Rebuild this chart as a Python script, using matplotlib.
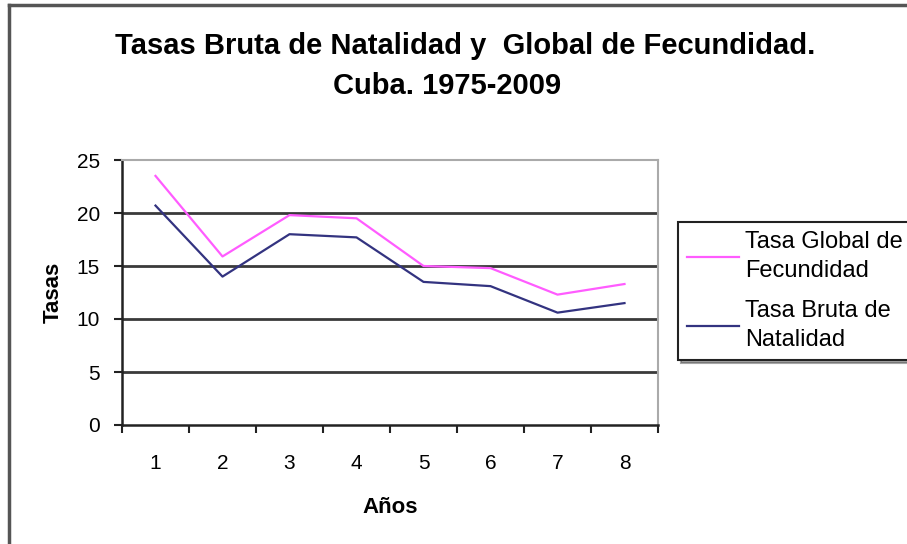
import matplotlib
matplotlib.use('Agg')
import matplotlib.pyplot as plt
from matplotlib.lines import Line2D

plt.rcParams['font.family'] = ['Liberation Sans', 'DejaVu Sans']

# datos
anos = [1, 2, 3, 4, 5, 6, 7, 8]
tasa_global = [23.5, 15.9, 19.8, 19.5, 15.0, 14.8, 12.3, 13.3]
tasa_bruta = [20.7, 14.0, 18.0, 17.7, 13.5, 13.1, 10.6, 11.5]
y_ticks = [0, 5, 10, 15, 20, 25]
titulo_1 = 'Tasas Bruta de Natalidad y  Global de Fecundidad.'
titulo_2 = 'Cuba. 1975-2009'

fig = plt.figure(figsize=(9.07, 5.44), dpi=100)
ax = fig.add_axes([122 / 907, 1 - 425 / 544, (658 - 122) / 907, (425 - 160) / 544])

# lineas de cuadricula
for v in y_ticks[1:-1]:
    ax.axhline(v, color='#3a3a3a', lw=2.0, zorder=1)

ax.plot(anos, tasa_global, color='#ff5cff', lw=1.6, label='Tasa Global de\nFecundidad', zorder=3)
ax.plot(anos, tasa_bruta, color='#333380', lw=1.6, label='Tasa Bruta de\nNatalidad', zorder=3)

ax.set_xlim(0.5, 8.5)
ax.set_ylim(0, 25)
ax.set_yticks(y_ticks)
ax.set_xticks([x + 0.5 for x in range(0, 9)])
ax.set_xticklabels([])
ax.set_xticks(anos, minor=True)
ax.set_xticklabels([str(a) for a in anos], minor=True)
ax.tick_params(axis='x', which='major', direction='out', length=6, width=1.5, color='#222222')
ax.tick_params(axis='x', which='minor', length=0, pad=21, labelsize=15)
ax.tick_params(axis='y', direction='out', length=6, width=1.5, color='#222222', pad=10, labelsize=15)

for s in ['top', 'right']:
    ax.spines[s].set_color('#aaaaaa')
    ax.spines[s].set_linewidth(1.5)
for s in ['left', 'bottom']:
    ax.spines[s].set_color('#222222')
    ax.spines[s].set_linewidth(1.8)

ax.set_xlabel('Años', fontsize=16, fontweight='bold', labelpad=17)
ax.set_ylabel('Tasas', fontsize=16, fontweight='bold', labelpad=9)

fig.text(465 / 907, 1 - 46 / 544, titulo_1, ha='center', va='center',
         fontsize=21, fontweight='bold')
fig.text(447 / 907, 1 - 86 / 544, titulo_2, ha='center', va='center',
         fontsize=21, fontweight='bold')

leg = fig.legend(loc='upper left', bbox_to_anchor=(678 / 907, 1 - 222 / 544),
                 borderaxespad=0, fontsize=17, frameon=True, fancybox=False, shadow=True,
                 handlelength=2.2, handletextpad=0.25, labelspacing=0.75,
                 borderpad=0.4)
for t in leg.get_texts():
    t.set_linespacing(1.4)
leg.get_frame().set_edgecolor('#222222')
leg.get_frame().set_linewidth(1.5)

# marco exterior
fig.add_artist(Line2D([9 / 907, 9 / 907], [0, 1 - 5 / 544], transform=fig.transFigure,
                      color='#555555', lw=2.5))
fig.add_artist(Line2D([9 / 907, 1], [1 - 5 / 544, 1 - 5 / 544], transform=fig.transFigure,
                      color='#555555', lw=2.5))

plt.savefig('out.png', dpi=100)
